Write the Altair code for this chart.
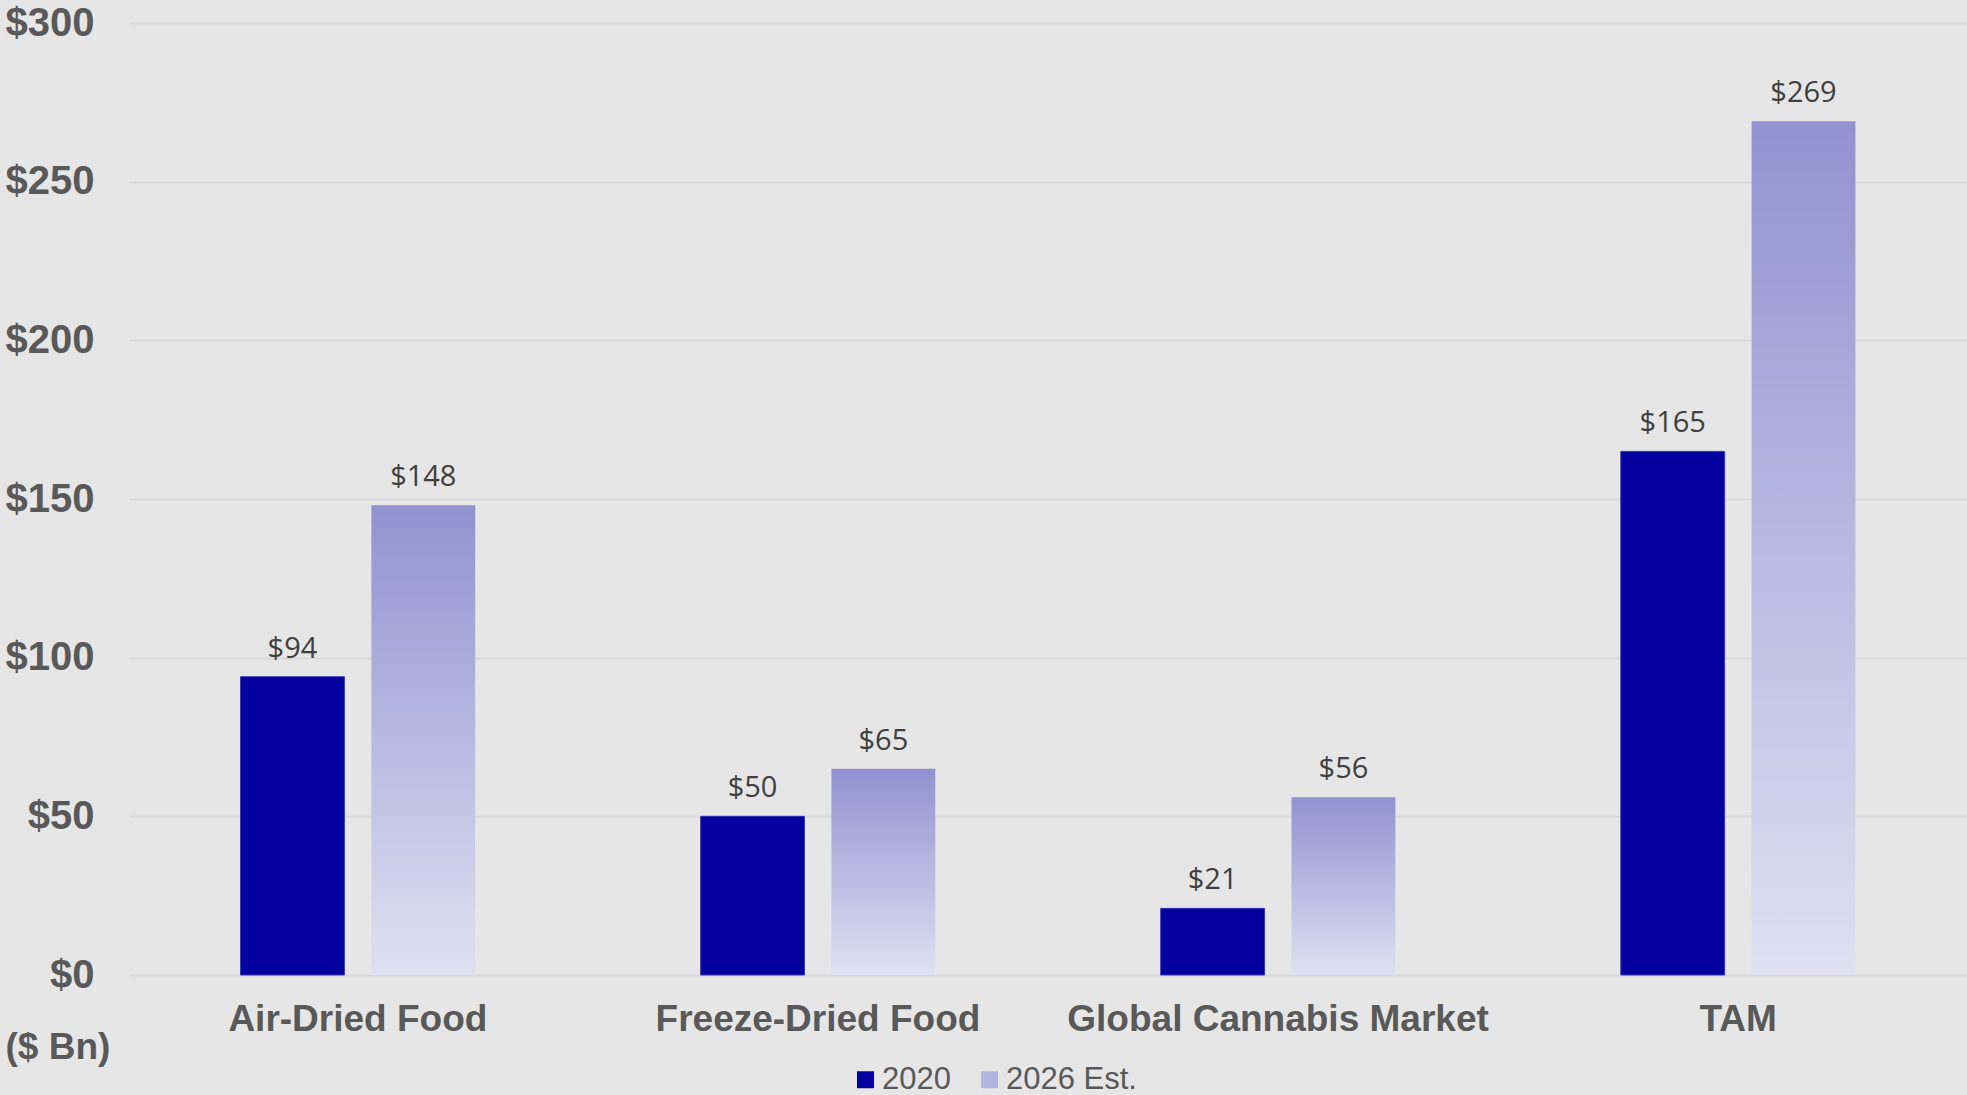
import altair as alt
import pandas as pd

categories = ["Air-Dried Food", "Freeze-Dried Food", "Global Cannabis Market", "TAM"]
series_names = ["2020", "2026 Est."]
values_2020 = [94, 50, 21, 165]
values_2026 = [148, 65, 56, 269]
y_ticks = [0, 50, 100, 150, 200, 250, 300]

rows = []
for c, v in zip(categories, values_2020):
    rows.append({"category": c, "series": series_names[0], "value": v})
for c, v in zip(categories, values_2026):
    rows.append({"category": c, "series": series_names[1], "value": v})
df = pd.DataFrame(rows)

NAVY = "#04029F"
GRAD = alt.LinearGradient(
    gradient="linear", x1=0, y1=0, x2=0, y2=1,
    stops=[alt.GradientStop(offset=0, color="#9292D1"),
           alt.GradientStop(offset=1, color="#E0E0F2")],
)

x_enc = alt.X(
    "category:N",
    sort=categories,
    scale=alt.Scale(domain=categories, paddingInner=0.49, paddingOuter=0.2425),
    axis=alt.Axis(
        title=None, labelAngle=0, domain=False, ticks=False, labelLimit=0,
        labelFont="Liberation Sans", labelFontWeight="bold", labelFontSize=37,
        labelColor="#595959", labelPadding=26,
    ),
)
xoff_enc = alt.XOffset(
    "series:N",
    scale=alt.Scale(domain=series_names, paddingInner=0.206, paddingOuter=0),
)
y_enc = alt.Y(
    "value:Q",
    scale=alt.Scale(domain=[0, 300], nice=False),
    axis=alt.Axis(
        values=y_ticks, labelExpr="'$' + datum.value",
        domain=False, ticks=False, grid=True, gridColor="#D9D9D9", gridWidth=2,
        labelFont="Liberation Sans", labelFontWeight="bold", labelFontSize=40,
        labelColor="#595959", labelPadding=35,
        title="($ Bn)", titleAngle=0, titleX=-124, titleY=1024,
        titleAlign="left", titleBaseline="middle",
        titleFont="Liberation Sans", titleFontWeight="bold", titleFontSize=37,
        titleColor="#595959",
    ),
)

base = alt.Chart(df)

bars_2020 = base.transform_filter(alt.datum.series == "2020").mark_bar(
    stroke="#3535B5", strokeWidth=1
).encode(
    x=x_enc, xOffset=xoff_enc, y=y_enc,
    color=alt.Color(
        "series:N",
        scale=alt.Scale(domain=series_names, range=[NAVY, "#B4B4E0"]),
        legend=alt.Legend(
            title=None, orient="none", direction="horizontal",
            legendX=721, legendY=1041, padding=0,
            symbolType="square", symbolSize=289, symbolStrokeWidth=0,
            symbolOpacity=1,
            labelFont="Liberation Sans", labelFontSize=31, labelColor="#595959",
            labelOffset=1, columnPadding=23,
        ),
    ),
)

bars_2026 = base.transform_filter(alt.datum.series == "2026 Est.").mark_bar(
    color=GRAD
).encode(x=x_enc, xOffset=xoff_enc, y=y_enc)

labels = base.transform_calculate(
    label="'$' + datum.value"
).mark_text(
    baseline="alphabetic", dy=-19, font="Open Sans", fontSize=29, color="#404040"
).encode(x=x_enc, xOffset=xoff_enc, y=y_enc, text="label:N")

chart = alt.layer(bars_2020, bars_2026, labels).properties(
    width=1838, height=952,
    autosize=alt.AutoSizeParams(type="none"),
    padding={"left": 129, "top": 23, "right": 0, "bottom": 120},
).configure(background="#E6E6E6").configure_view(stroke=None)

chart.save("out.html", embed_options={"renderer": "svg", "actions": False})
